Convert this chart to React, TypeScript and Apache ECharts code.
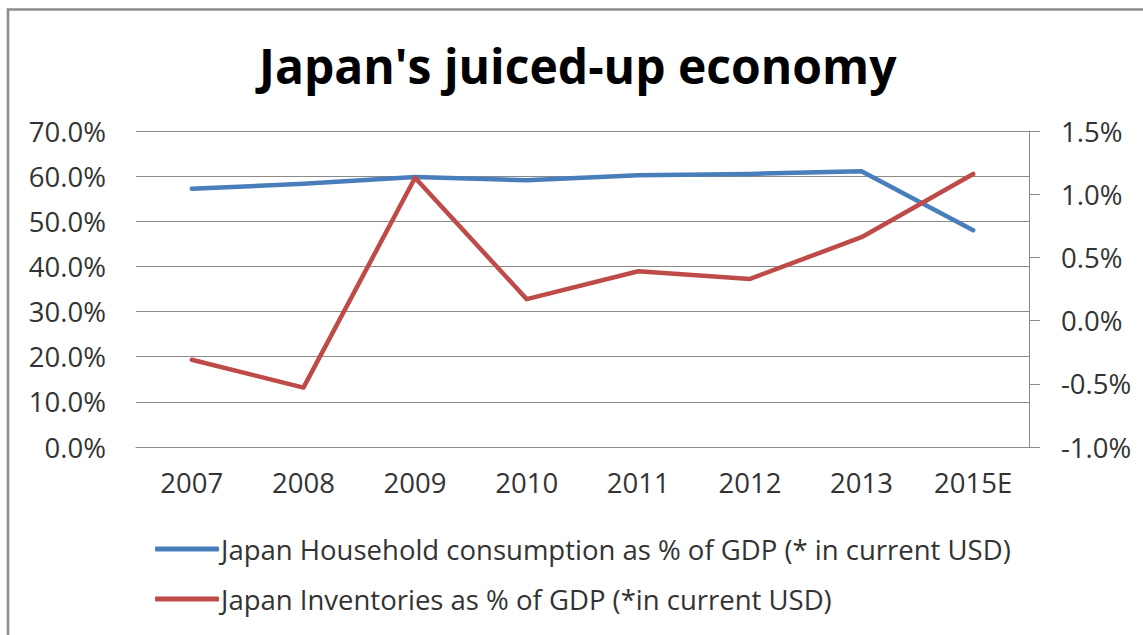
import React, { useEffect, useRef } from "react";
import * as echarts from "echarts";

const categories = ["2007", "2008", "2009", "2010", "2011", "2012", "2013", "2015E"];
const householdConsumption = [57.2, 58.3, 59.8, 59.1, 60.2, 60.5, 61.1, 48.0];
const inventories = [-0.31, -0.53, 1.13, 0.17, 0.39, 0.33, 0.66, 1.16];
const seriesNames = [
  "Japan Household consumption as % of GDP (* in current USD)",
  "Japan Inventories as % of GDP (*in current USD)",
];
const titleText = "Japan's juiced-up economy";

const FONT = "'Open Sans', sans-serif";
const TEXT_COLOR = "#333333";
const GRID_COLOR = "#8a8a8a";
const LABEL_SIZE = 27.5;

export default function App() {
  const ref = useRef<HTMLDivElement>(null);
  useEffect(() => {
    if (!ref.current) return;
    const chart = echarts.init(ref.current, null, { renderer: "svg" });
    chart.setOption({
      animation: false,
      backgroundColor: "#ffffff",
      textStyle: { fontFamily: FONT },
      graphic: [
        {
          type: "rect",
          shape: { x: 8, y: 9.5, width: 1200, height: 700 },
          style: { fill: "none", stroke: "#8c8c8c", lineWidth: 2.5 },
          silent: true,
        },
      ],
      title: {
        text: titleText,
        left: 254,
        top: 36,
        textStyle: {
          fontFamily: FONT,
          fontWeight: "bold",
          fontSize: 48,
          color: "#000000",
        },
      },
      grid: { left: 136, right: 114, top: 131, height: 316, containLabel: false },
      legend: {
        orient: "vertical",
        left: 150,
        top: 530,
        itemWidth: 64,
        itemHeight: 5,
        itemGap: 22,
        icon: "roundRect",
        textStyle: { fontFamily: FONT, fontSize: LABEL_SIZE, color: TEXT_COLOR, padding: [0, 0, 0, -3] },
        data: seriesNames,
      },
      xAxis: {
        type: "category",
        data: categories,
        boundaryGap: true,
        axisLine: { show: true, lineStyle: { color: GRID_COLOR, width: 1 } },
        axisTick: { show: false },
        axisLabel: { fontFamily: FONT, fontSize: LABEL_SIZE, color: TEXT_COLOR, margin: 21 },
      },
      yAxis: [
        {
          type: "value",
          min: 0,
          max: 70,
          interval: 10,
          axisLine: { show: false },
          axisTick: { show: false },
          splitLine: { show: true, lineStyle: { color: GRID_COLOR, width: 1 } },
          axisLabel: {
            fontFamily: FONT,
            fontSize: LABEL_SIZE,
            color: TEXT_COLOR,
            margin: 30,
            formatter: (v: number) => v.toFixed(1) + "%",
          },
        },
        {
          type: "value",
          min: -1.0,
          max: 1.5,
          interval: 0.5,
          position: "right",
          axisLine: { show: true, lineStyle: { color: GRID_COLOR, width: 1 } },
          axisTick: { show: true, length: 11, lineStyle: { color: GRID_COLOR, width: 1 } },
          splitLine: { show: false },
          axisLabel: {
            fontFamily: FONT,
            fontSize: LABEL_SIZE,
            color: TEXT_COLOR,
            margin: 32,
            formatter: (v: number) => v.toFixed(1) + "%",
          },
        },
      ],
      series: [
        {
          name: seriesNames[0],
          type: "line",
          yAxisIndex: 0,
          data: householdConsumption,
          symbol: "none",
          lineStyle: { color: "#4a7ebb", width: 4.5, cap: "round", join: "round" },
          itemStyle: { color: "#4a7ebb" },
        },
        {
          name: seriesNames[1],
          type: "line",
          yAxisIndex: 1,
          data: inventories,
          symbol: "none",
          lineStyle: { color: "#be4b48", width: 4.5, cap: "round", join: "round" },
          itemStyle: { color: "#be4b48" },
        },
      ],
    });
    return () => chart.dispose();
  }, []);
  return (
    <div
      ref={ref}
      style={{ position: "absolute", left: 0, top: 0, width: 1143, height: 635 }}
    />
  );
}
